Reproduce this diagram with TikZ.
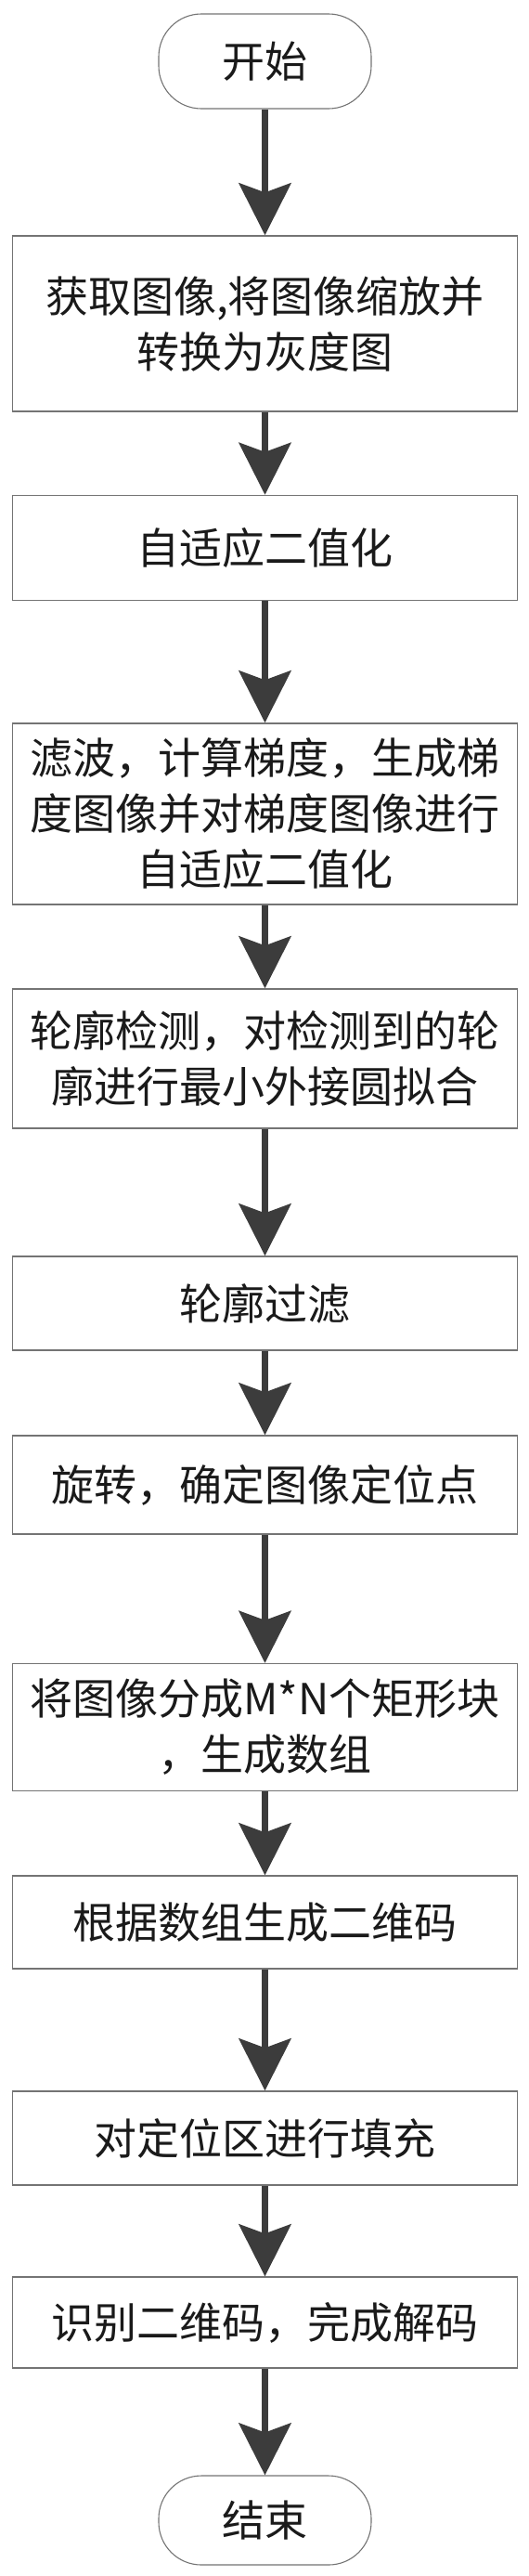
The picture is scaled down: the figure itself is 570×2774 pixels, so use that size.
\documentclass[tikz,border=0pt]{standalone}
\usepackage{fontspec}
\newfontfamily\cjk{Noto Sans CJK SC}
\usetikzlibrary{arrows.meta}
\definecolor{boxgray}{HTML}{747474}
\definecolor{arrowgray}{HTML}{3C3C3C}
\definecolor{txt}{HTML}{1A1A1A}
\tikzset{
  box/.style={draw=boxgray, line width=1.4pt, fill=white, minimum width=544pt,
    minimum height=#1, align=center, inner sep=0pt, text=txt,
    font=\cjk\fontsize{46}{60}\selectfont},
  term/.style={draw=boxgray, line width=1.1pt, fill=white, rounded corners=46pt,
    minimum width=229pt, minimum height=#1, inner sep=0pt, text=txt,
    font=\cjk\fontsize{46}{60}\selectfont},
  flow/.style={draw=arrowgray, line width=7pt,
    -{Stealth[length=56pt,width=56pt,inset=10pt]}}
}
\begin{document}
\begin{tikzpicture}[x=1pt,y=-1pt]
\useasboundingbox (0,0) rectangle (570,2774);
\node[term=102pt] (start) at (285.5,66) {开始};
\node[box=189pt] (b1) at (285.5,348.5) {获取图像,将图像缩放并\\转换为灰度图};
\node[box=113pt] (b2) at (285.5,590) {自适应二值化};
\node[box=195pt] (b3) at (285.5,876.5) {滤波，计算梯度，生成梯\\度图像并对梯度图像进行\\自适应二值化};
\node[box=150pt] (b4) at (285.5,1140) {轮廓检测，对检测到的轮\\廓进行最小外接圆拟合};
\node[box=101pt] (b5) at (285.5,1403.5) {轮廓过滤};
\node[box=106pt] (b6) at (285.5,1599) {旋转，确定图像定位点};
\node[box=137pt] (b7) at (285.5,1860) {将图像分成M*N个矩形块\\，生成数组};
\node[box=100pt] (b8) at (285.5,2070) {根据数组生成二维码};
\node[box=101pt] (b9) at (285.5,2302.5) {对定位区进行填充};
\node[box=98pt] (b10) at (285.5,2501) {识别二维码，完成解码};
\node[term=96pt] (end) at (285.5,2714) {结束};
\draw[flow] (start.south) -- (b1.north);
\draw[flow] (b1.south) -- (b2.north);
\draw[flow] (b2.south) -- (b3.north);
\draw[flow] (b3.south) -- (b4.north);
\draw[flow] (b4.south) -- (b5.north);
\draw[flow] (b5.south) -- (b6.north);
\draw[flow] (b6.south) -- (b7.north);
\draw[flow] (b7.south) -- (b8.north);
\draw[flow] (b8.south) -- (b9.north);
\draw[flow] (b9.south) -- (b10.north);
\draw[flow] (b10.south) -- (end.north);
\end{tikzpicture}
\end{document}
